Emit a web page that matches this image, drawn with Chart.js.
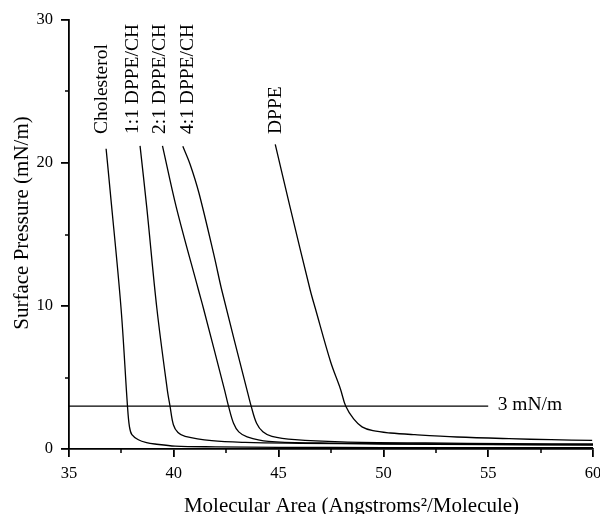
<!DOCTYPE html>
<html>
<head>
<meta charset="utf-8">
<script src="https://cdn.jsdelivr.net/npm/chart.js@4.4.0/dist/chart.umd.min.js"></script>
<style>
	body { margin: 0; background: #fff; }
	#wrap { width: 600px; height: 514px; }
</style>
</head>
<body>
<div id="wrap"><canvas id="mycanvas"></canvas></div>
<script>
// ** Surface pressure isotherms, DPPE / cholesterol mixtures

var cholX = [36.77, 36.96, 37.48, 37.79, 37.88, 38.0, 38.31, 38.7, 39.1, 40.06, 42, 45, 50, 55, 60];
var cholY = [21.0, 18.1, 9.9, 3.0, 1.6, 1.0, 0.65, 0.45, 0.35, 0.2, 0.15, 0.12, 0.1, 0.1, 0.1];

var mix11X = [38.39, 38.71, 39.19, 39.69, 39.82, 39.98, 40.2, 40.54, 41.81, 43.4, 46, 50, 55, 60];
var mix11Y = [21.2, 16.9, 9.86, 4.14, 3.0, 1.7, 1.15, 0.88, 0.58, 0.46, 0.4, 0.35, 0.3, 0.28];

var mix21X = [39.46, 40.12, 41.18, 41.41, 42.42, 42.61, 42.85, 43.1, 43.5, 44.52, 47, 50, 55, 60];
var mix21Y = [21.2, 16.9, 11.1, 9.86, 4.14, 3.0, 1.8, 1.2, 0.85, 0.53, 0.42, 0.38, 0.33, 0.3];

var mix41X = [40.43, 40.78, 41.2, 41.94, 42.29, 43.49, 43.69, 43.95, 44.25, 44.68, 45.79, 48, 52, 56, 60];
var mix41Y = [21.17, 19.9, 17.9, 13.4, 11.1, 4.14, 3.0, 1.8, 1.2, 0.88, 0.65, 0.5, 0.42, 0.38, 0.35];

var dppeX = [44.84, 45.55, 46.51, 46.75, 47.48, 47.95, 48.2, 48.58, 48.98, 49.5, 50.33, 51.5, 53.51, 56, 58, 59.96];
var dppeY = [21.3, 16.9, 11.1, 9.84, 6.1, 4.2, 3.0, 2.1, 1.55, 1.28, 1.12, 1.0, 0.84, 0.72, 0.65, 0.6];

var refX = [35, 55];
var refY = [3, 3];

var curveNames = ['Cholesterol', '1:1 DPPE/CH', '2:1 DPPE/CH', '4:1 DPPE/CH', 'DPPE'];
var labelX = [36.83, 38.3, 39.6, 40.9, 45.1];
var labelY = 22.03;

var xTicks = [35, 40, 45, 50, 55, 60];
var yTicks = [0, 10, 20, 30];
var xMinor = [37.5, 42.5, 47.5, 52.5, 57.5];
var yMinor = [5, 15, 25];

var serif = "'Liberation Serif', 'Times New Roman', serif";

function pts(xs, ys) {
	var out = [];
	for (var i in xs) {
		out.push({x: xs[i], y: ys[i]});
	}
	return out;
}

function curve(label, xs, ys) {
	return {
		label: label,
		data: pts(xs, ys),
		borderColor: '#000',
		borderWidth: 1.3,
		pointRadius: 0,
		fill: false,
		tension: 0.35
	};
}

// labels, minor ticks and axis titles
var annotate = {
	id: 'annotate',
	afterDraw: function(chart) {
		var ctx = chart.ctx;
		var xs = chart.scales.x;
		var ys = chart.scales.y;
		var i, px, py;

		ctx.save();
		ctx.strokeStyle = '#000';
		ctx.lineWidth = 1.5;
		ctx.beginPath();
		for (i in xMinor) {
			px = Math.round(xs.getPixelForValue(xMinor[i]));
			ctx.moveTo(px, ys.bottom);
			ctx.lineTo(px, ys.bottom + 4);
		}
		for (i in yMinor) {
			py = Math.round(ys.getPixelForValue(yMinor[i]));
			ctx.moveTo(xs.left, py);
			ctx.lineTo(xs.left - 4, py);
		}
		ctx.stroke();

		ctx.fillStyle = '#000';
		ctx.font = '19.5px ' + serif;
		ctx.textBaseline = 'alphabetic';
		ctx.textAlign = 'left';
		for (i in curveNames) {
			ctx.save();
			ctx.translate(xs.getPixelForValue(labelX[i]), ys.getPixelForValue(labelY));
			ctx.rotate(-Math.PI / 2);
			ctx.fillText(curveNames[i], 0, 0);
			ctx.restore();
		}
		ctx.fillText('3 mN/m', xs.getPixelForValue(55.45), ys.getPixelForValue(2.71));

		ctx.font = '21px ' + serif;
		ctx.textAlign = 'center';
		ctx.fillText('Molecular Area (Angstroms\u00B2/Molecule)', 351.5, 511.5);
		ctx.save();
		ctx.translate(28, 223);
		ctx.rotate(-Math.PI / 2);
		ctx.fillText('Surface Pressure (mN/m)', 0, 0);
		ctx.restore();
		ctx.restore();
	}
};

var chartdata = {
	datasets: [
		curve('Cholesterol', cholX, cholY),
		curve('1:1 DPPE/CH', mix11X, mix11Y),
		curve('2:1 DPPE/CH', mix21X, mix21Y),
		curve('4:1 DPPE/CH', mix41X, mix41Y),
		curve('DPPE', dppeX, dppeY),
		{
			label: '3 mN/m',
			data: pts(refX, refY),
			borderColor: '#000',
			borderWidth: 1.3,
			pointRadius: 0,
			fill: false
		}
	]
};

var ctx = document.getElementById('mycanvas');

var isoGraph = new Chart(ctx, {
	type: 'line',
	data: chartdata,
	plugins: [annotate],
	options: {
		responsive: true,
		maintainAspectRatio: false,
		animation: false,
		layout: {
			padding: { left: 0, right: 7, top: 20, bottom: 0 }
		},
		plugins: {
			legend: { display: false },
			tooltip: { enabled: false }
		},
		scales: {
			x: {
				type: 'linear',
				min: 35,
				max: 60,
				afterFit: function(scale) {
					scale.height = 65;
					scale.paddingLeft = 0;
					scale.paddingRight = 0;
				},
				afterBuildTicks: function(scale) {
					scale.ticks = xTicks.map(function(v) { return {value: v}; });
				},
				border: { color: '#000', width: 1.8 },
				grid: { drawOnChartArea: false, drawTicks: true, tickLength: 8, color: '#000', lineWidth: 1.8 },
				ticks: { color: '#000', padding: 7, maxRotation: 0, font: { family: serif, size: 16.5 } }
			},
			y: {
				type: 'linear',
				min: 0,
				max: 30,
				afterFit: function(scale) {
					scale.width = 69;
					scale.paddingTop = 0;
					scale.paddingBottom = 0;
				},
				afterBuildTicks: function(scale) {
					scale.ticks = yTicks.map(function(v) { return {value: v}; });
				},
				border: { color: '#000', width: 1.8 },
				grid: { drawOnChartArea: false, drawTicks: true, tickLength: 8, color: '#000', lineWidth: 1.8 },
				ticks: { color: '#000', padding: 8, font: { family: serif, size: 16.5 } }
			}
		}
	}
});
</script>
</body>
</html>
